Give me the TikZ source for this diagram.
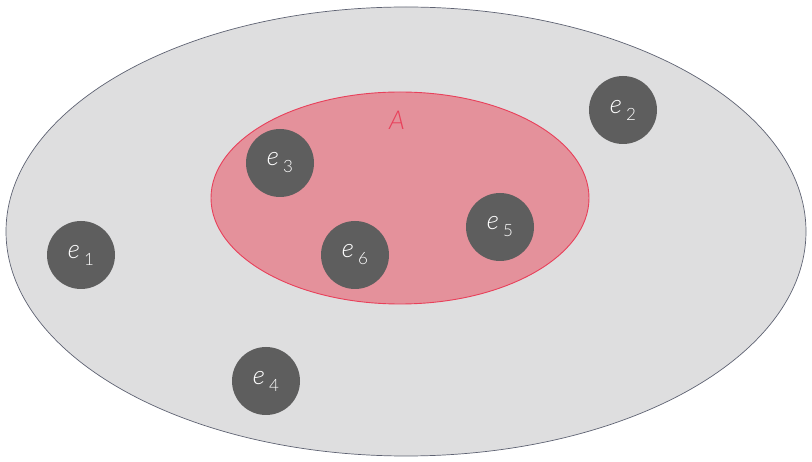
\documentclass[tikz,border=0pt]{standalone}
\usepackage{fontspec}
\setmainfont{Lato Light}[ItalicFont={Lato Light Italic}]
\definecolor{outerfill}{HTML}{DEDEDF}
\definecolor{outerdraw}{HTML}{5E6272}
\definecolor{setfill}{HTML}{E4919B}
\definecolor{setdraw}{HTML}{E8405A}
\definecolor{elemfill}{HTML}{5E5E5E}
\begin{document}
\begin{tikzpicture}[x=1pt,y=-1pt,
  elem/.style={circle,fill=elemfill,minimum size=68pt,inner sep=0pt,text=white,font=\fontsize{26}{28}\selectfont},
]
\useasboundingbox (0,0) rectangle (812,462);
\newcommand{\elab}[1]{\textit{e}\hspace{4pt}\raisebox{-7pt}{\fontsize{17}{18}\selectfont #1}}
\draw[outerdraw,fill=outerfill,line width=0.7pt] (406,231.5) ellipse [x radius=400, y radius=224.5];
\draw[setdraw,fill=setfill,line width=0.9pt] (400,198) ellipse [x radius=189, y radius=106];
\node[text=setdraw,font=\fontsize{26}{28}\selectfont] (A) at (397,120) {\textit{A}};
\node[elem] (e1) at (81,255) {\elab{1}};
\node[elem] (e2) at (623,110) {\elab{2}};
\node[elem] (e3) at (280,163) {\elab{3}};
\node[elem] (e4) at (266,381) {\elab{4}};
\node[elem] (e5) at (500,227) {\elab{5}};
\node[elem] (e6) at (355,255) {\elab{6}};
\end{tikzpicture}
\end{document}
